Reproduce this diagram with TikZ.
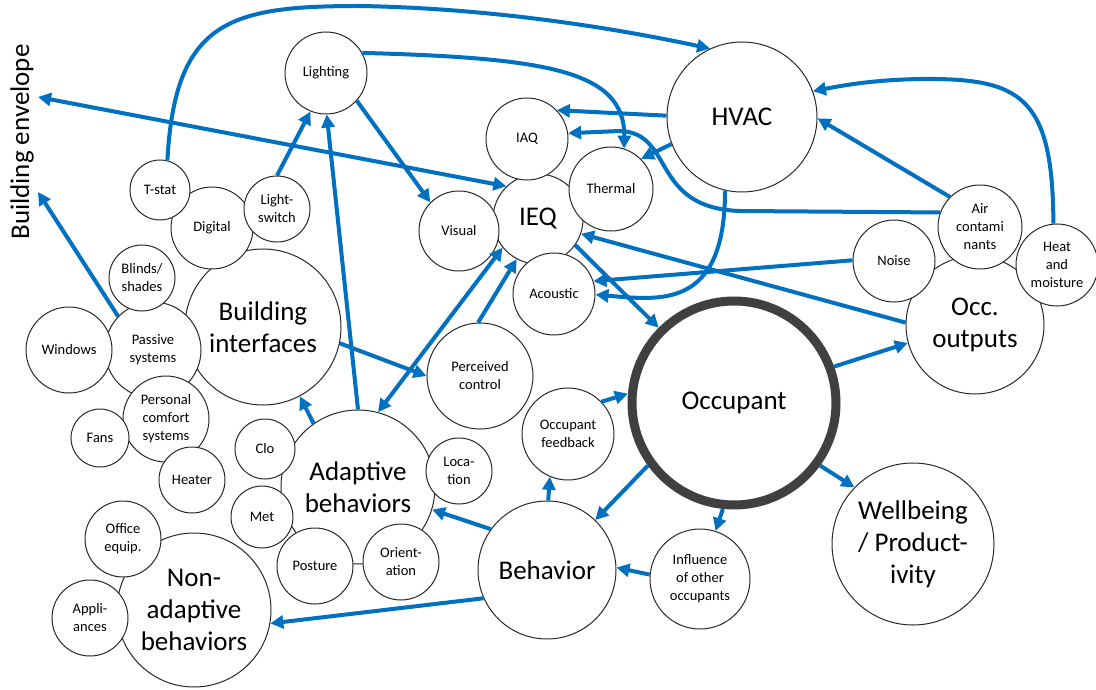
\documentclass[tikz,border=0pt]{standalone}
\usepackage{fontspec}
\setmainfont{Carlito}
\usetikzlibrary{arrows.meta}
\definecolor{cblue}{RGB}{0,112,192}
\definecolor{cgray}{RGB}{64,64,64}
\definecolor{cline}{RGB}{40,40,40}
\tikzset{
  bub/.style={circle, draw=cline, line width=1pt, fill=white, inner sep=0pt, align=center,
    font=\fontsize{14.5}{18}\selectfont},
  bigbub/.style={bub, font=\fontsize{27}{32}\selectfont},
  conn/.style={draw=cblue, line width=4pt, line cap=butt, -{Triangle[length=13pt,width=13pt]}},
  conntwo/.style={draw=cblue, line width=4pt, {Triangle[length=13pt,width=13pt]}-{Triangle[length=13pt,width=13pt]}},
}
\begin{document}
\begin{tikzpicture}[x=1pt,y=-1pt]
\useasboundingbox[fill=white] (0,0) rectangle (1096,690);

% Building envelope label
\node[rotate=90, font=\fontsize{27}{32}\selectfont, inner sep=0pt] (benv) at (22,142) {Building envelope};
\coordinate (benvA) at (38,97);
\coordinate (benvB) at (38,192);

% Building interfaces cluster
\node[bigbub, minimum size=156pt] (bint) at (263,327) {Building\\interfaces};
\node[bub, minimum size=96pt] (passive) at (153,350) {Passive\\systems};
\node[bub, minimum size=82pt] (digital) at (212,228) {Digital};
\node[bub, minimum size=60pt] (tstat) at (160,190) {T-stat};
\node[bub, minimum size=66pt] (lswitch) at (277,209) {Light-\\switch};
\node[bub, minimum size=66pt] (blinds) at (142,278) {Blinds/\\shades};
\node[bub, minimum size=86pt] (windows) at (69,350) {Windows};
\node[bub, minimum size=86pt] (personal) at (166,419) {Personal\\comfort\\systems};
\node[bub, minimum size=58pt] (fans) at (100,438) {Fans};
\node[bub, minimum size=66pt] (heater) at (192,480) {Heater};

% Lighting
\node[bub, minimum size=82pt] (lighting) at (326,73) {Lighting};

% Adaptive behaviors cluster
\node[bigbub, minimum size=154pt] (adaptive) at (358,487) {Adaptive\\behaviors};
\node[bub, minimum size=60pt] (clo) at (265,449) {Clo};
\node[bub, minimum size=62pt] (met) at (262,517) {Met};
\node[bub, minimum size=76pt] (posture) at (315,566) {Posture};
\node[bub, minimum size=76pt] (orient) at (401,562) {Orient-\\ation};
\node[bub, minimum size=66pt] (location) at (459,471) {Loca-\\tion};

% Non-adaptive behaviors cluster
\node[bigbub, minimum size=154pt] (nonad) at (194,610) {Non-\\adaptive\\behaviors};
\node[bub, minimum size=76pt] (office) at (123,539) {Office\\equip.};
\node[bub, minimum size=76pt] (appl) at (90,618) {Appli-\\ances};

% IEQ cluster
\node[bigbub, minimum size=90pt] (ieq) at (538,219) {IEQ};
\node[bub, minimum size=82pt] (iaq) at (527,139) {IAQ};
\node[bub, minimum size=84pt] (thermal) at (611,189) {Thermal};
\node[bub, minimum size=80pt] (visual) at (459,231) {Visual};
\node[bub, minimum size=82pt] (acoustic) at (554,294) {Acoustic};

% Others
\node[bub, minimum size=106pt] (perceived) at (480,376) {Perceived\\control};
\node[bub, minimum size=92pt] (feedback) at (568,434) {Occupant\\feedback};
\node[bigbub, minimum size=150pt] (hvac) at (742,117) {HVAC};
\node[bigbub, minimum size=204pt, draw=cgray, line width=9pt] (occupant) at (734,403) {Occupant};
\node[bigbub, minimum size=138pt] (behavior) at (547,570) {Behavior};
\node[bub, minimum size=100pt] (influence) at (700,579) {Influence\\of other\\occupants};
\node[bigbub, minimum size=162pt] (wellbeing) at (913,544) {Wellbeing\\/ Product-\\ivity};

% Occ. outputs cluster
\node[bigbub, minimum size=138pt] (occout) at (975,325) {Occ.\\outputs};
\node[bub, minimum size=82pt] (noise) at (894,261) {Noise};
\node[bub, minimum size=84pt] (aircont) at (980,227) {Air\\contami\\nants};
\node[bub, minimum size=82pt] (heat) at (1057,265) {Heat\\and\\moisture};

% Connectors
\draw[conn] (tstat.76) .. controls (175,20) and (230,6) .. (360,6) .. controls (480,8) and (600,25) .. (hvac.115);
\draw[conn] (lighting.29) .. controls (545,58) and (625,70) .. (thermal.72);
\draw[conn] (lighting.-42) -- (visual.135);
\draw[conntwo] (benvA) -- (ieq.134);
\draw[conn] (passive.136) -- (benvB);
\draw[conn] (lswitch.90) -- (lighting.248);
\draw[conn] (adaptive.90) -- (lighting.-89);
\draw[conn] (adaptive.125) -- (bint.-62);
\draw[conn] (bint.-12) -- (perceived.180);
\draw[conntwo] (adaptive.75) -- (ieq.219);
\draw[conn] (perceived.92) -- (ieq.242);
\draw[conn] (hvac.179) -- (iaq.44);
\draw[conn] (hvac.201) -- (thermal.45);
\draw[conn] (aircont.160) -- (740,211) .. controls (650,208) and (675,133) .. (620,131) -- (iaq.8);
\draw[conn] (aircont.135) -- (hvac.-1);
\draw[conn] (heat.95) .. controls (1053,95) and (1020,78) .. (920,79) .. controls (870,80) and (840,86) .. (hvac.20);
\draw[conn] (hvac.257) .. controls (725,310) and (660,300) .. (acoustic.-1);
\draw[conn] (noise.179) -- (acoustic.18);
\draw[conn] (occout.178) -- (ieq.-19);
\draw[conn] (ieq.-35) -- (occupant.135);
\draw[conn] (occupant.20) -- (occout.195);
\draw[conn] (occupant.-36) -- (wellbeing.136);
\draw[conn] (occupant.-96) -- (influence.72);
\draw[conn] (occupant.216) -- (behavior.46);
\draw[conn] (feedback.44) -- (occupant.175);
\draw[conn] (behavior.89) -- (feedback.-113);
\draw[conn] (influence.175) -- (behavior.2);
\draw[conn] (behavior.144) -- (adaptive.-17);
\draw[conn] (behavior.204) -- (nonad.-10);
\end{tikzpicture}
\end{document}
